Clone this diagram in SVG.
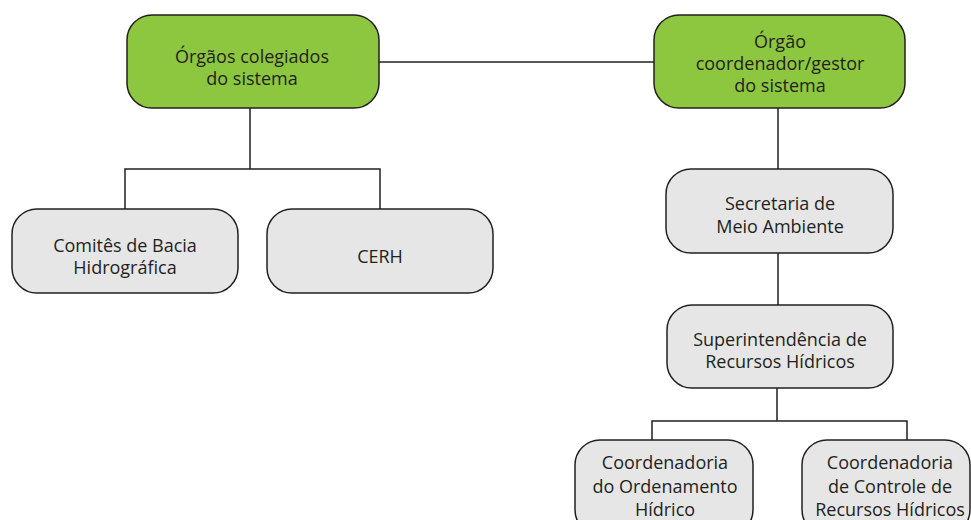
<svg xmlns="http://www.w3.org/2000/svg" width="971" height="520" viewBox="0 0 971 520">
<style>
.g{fill:#8dc63f;stroke:#231f20;stroke-width:1.5}
.n{fill:#e6e6e6;stroke:#231f20;stroke-width:1.5}
.c{fill:none;stroke:#231f20;stroke-width:1.5}
text{font-family:"Open Sans","Noto Sans","Liberation Sans",sans-serif;font-size:18px;fill:#231f20;text-anchor:middle}
</style>
<rect width="971" height="520" fill="#fff"/>
<g id="connectors">
<path class="c" d="M379 62H654"/>
<path class="c" d="M250 108V169M125 209V169H380V209"/>
<path class="c" d="M778 108V169M778 253V305M777 388V421M652 440V421H907V440"/>
</g>
<g id="orgaos-colegiados">
<rect class="g" x="127" y="15" width="252" height="93" rx="25"/>
<text x="252" y="63">Órgãos colegiados</text>
<text x="252" y="85">do sistema</text>
</g>
<g id="orgao-coordenador">
<rect class="g" x="654" y="15" width="251" height="93" rx="25"/>
<text x="780" y="48">Órgão</text>
<text x="780" y="70">coordenador/gestor</text>
<text x="780" y="92">do sistema</text>
</g>
<g id="comites">
<rect class="n" x="12" y="209" width="226" height="84" rx="25"/>
<text x="125" y="252">Comitês de Bacia</text>
<text x="125" y="274">Hidrográfica</text>
</g>
<g id="cerh">
<rect class="n" x="267" y="209" width="226" height="84" rx="25"/>
<text x="380" y="263">CERH</text>
</g>
<g id="secretaria">
<rect class="n" x="666" y="169" width="227" height="84" rx="25"/>
<text x="780" y="210">Secretaria de</text>
<text x="780" y="233">Meio Ambiente</text>
</g>
<g id="superintendencia">
<rect class="n" x="667" y="305" width="226" height="83" rx="25"/>
<text x="780" y="346">Superintendência de</text>
<text x="780" y="368">Recursos Hídricos</text>
</g>
<g id="coord-ordenamento">
<rect class="n" x="575" y="440" width="178" height="95" rx="25"/>
<text x="665" y="469">Coordenadoria</text>
<text x="665" y="493">do Ordenamento</text>
<text x="665" y="516">Hídrico</text>
</g>
<g id="coord-controle">
<rect class="n" x="802" y="440" width="168" height="95" rx="25"/>
<text x="890" y="469">Coordenadoria</text>
<text x="890" y="493">de Controle de</text>
<text x="890" y="516">Recursos Hídricos</text>
</g>
</svg>
